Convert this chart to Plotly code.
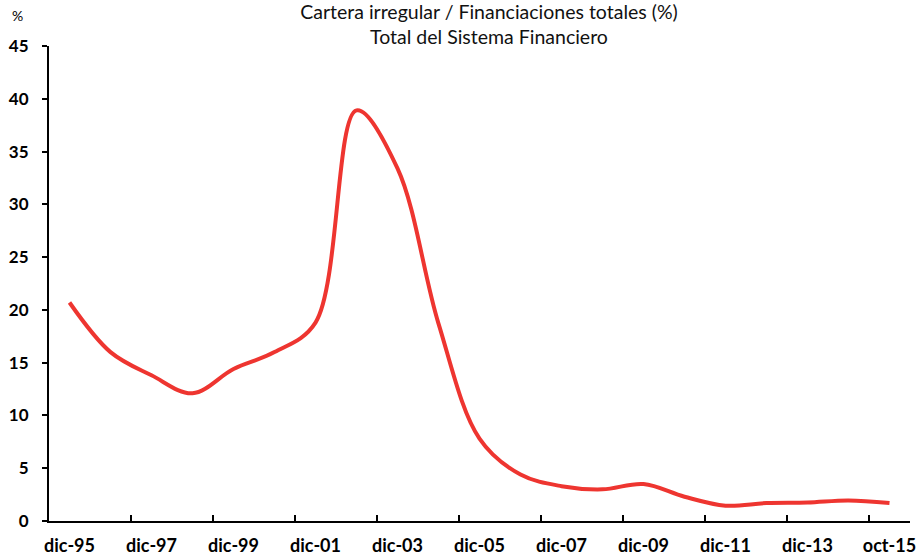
import plotly.graph_objects as go

categories = ["dic-95", "dic-96", "dic-97", "dic-98", "dic-99", "dic-00", "dic-01",
              "dic-02", "dic-03", "dic-04", "dic-05", "dic-06", "dic-07", "dic-08",
              "dic-09", "dic-10", "dic-11", "dic-12", "dic-13", "dic-14", "oct-15"]
values = [20.7, 16.0, 13.8, 12.1, 14.4, 16.0, 18.8,
          38.9, 33.4, 18.7, 7.8, 4.4, 3.3, 3.0,
          3.5, 2.3, 1.45, 1.7, 1.75, 1.95, 1.7]
y_ticks = [0, 5, 10, 15, 20, 25, 30, 35, 40, 45]

idx = list(range(len(categories)))
label_idx = idx[::2]
label_text = [categories[i] for i in label_idx]
boundary_ticks = [i + 1.5 for i in idx[:-1:2]][:len(label_idx) - 1]

FONT = "Lato"
fig = go.Figure()
fig.add_trace(go.Scatter(
    x=idx, y=values, mode="lines",
    line=dict(color="#EE3530", width=4, shape="spline", smoothing=1.0),
    hoverinfo="skip", showlegend=False,
))

fig.update_layout(
    width=924, height=556,
    margin=dict(l=49, r=14, t=46, b=35),
    paper_bgcolor="white", plot_bgcolor="white",
    showlegend=False,
    title=dict(
        text="Cartera irregular / Financiaciones totales (%)<br>Total del Sistema Financiero",
        x=(489 / 924), xanchor="center", y=0.9665, yanchor="middle",
        font=dict(family=FONT, size=19.5, color="#111111"),
    ),
    xaxis=dict(
        range=[-0.5, len(categories) - 0.5],
        tickmode="array", tickvals=label_idx, ticktext=label_text,
        ticks="", showgrid=False, zeroline=False, automargin=False,
        showline=True, linecolor="black", linewidth=2,
        tickfont=dict(family=FONT, size=18, color="black", weight="bold"),
        ticklabelstandoff=7,
        minor=dict(tickmode="array", tickvals=boundary_ticks, ticks="inside",
                   ticklen=6, tickwidth=1.5, tickcolor="black", showgrid=False),
    ),
    yaxis=dict(
        range=[0, 45], tickmode="array", tickvals=y_ticks,
        ticks="outside", ticklen=5, tickwidth=1.5, tickcolor="black",
        showgrid=False, zeroline=False, automargin=False,
        showline=True, linecolor="black", linewidth=2,
        tickfont=dict(family=FONT, size=17, color="black", weight="bold"),
        ticklabelstandoff=10,
    ),
    annotations=[dict(
        text="%", xref="paper", yref="paper", x=-0.037, y=1.064,
        xanchor="center", yanchor="middle", showarrow=False,
        font=dict(family=FONT, size=14, color="black"),
    )],
)

fig.write_html("out.html")
